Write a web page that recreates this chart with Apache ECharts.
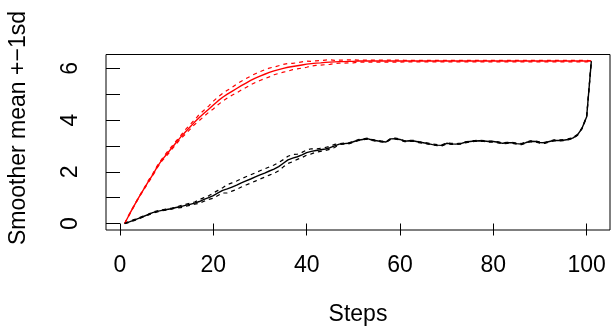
<!DOCTYPE html>
<html>
<head>
<meta charset="utf-8">
<script src="https://cdn.jsdelivr.net/npm/echarts@6/dist/echarts.min.js"></script>
<style>
  html, body { margin: 0; padding: 0; background: #fff; }
  #chart { width: 611px; height: 327px; }
</style>
</head>
<body>
<div id="chart"></div>
<script>
// steps 1..101
const steps = Array.from({ length: 101 }, (_, i) => i + 1);

// red smoother: mean and sd
const redMean = [
  0, 0.35, 0.68, 1.0, 1.3, 1.6, 1.88, 2.2, 2.46, 2.68,
  2.9, 3.12, 3.34, 3.54, 3.73, 3.92, 4.1, 4.26, 4.42, 4.58,
  4.74, 4.88, 5.0, 5.11, 5.22, 5.33, 5.43, 5.53, 5.62, 5.7,
  5.77, 5.84, 5.9, 5.95, 6.0, 6.04, 6.07, 6.1, 6.13, 6.16,
  6.18, 6.2, 6.21, 6.23, 6.24, 6.25, 6.26, 6.26, 6.27, 6.27,
  6.28, 6.28, 6.28, 6.28, 6.28, 6.28, 6.28, 6.28, 6.28, 6.28,
  6.28, 6.28, 6.28, 6.28, 6.28, 6.28, 6.28, 6.28, 6.28, 6.28,
  6.28, 6.28, 6.28, 6.28, 6.28, 6.28, 6.28, 6.28, 6.28, 6.28,
  6.28, 6.28, 6.28, 6.28, 6.28, 6.28, 6.28, 6.28, 6.28, 6.28,
  6.28, 6.28, 6.28, 6.28, 6.28, 6.28, 6.28, 6.28, 6.28, 6.28,
  6.28
];
const redSd = [
  0, 0.02, 0.02, 0.02, 0.02, 0.04, 0.04, 0.04, 0.04, 0.06,
  0.06, 0.06, 0.06, 0.09, 0.09, 0.09, 0.12, 0.12, 0.12, 0.15,
  0.15, 0.15, 0.15, 0.15, 0.17, 0.17, 0.17, 0.17, 0.17, 0.17,
  0.17, 0.17, 0.15, 0.15, 0.15, 0.15, 0.12, 0.12, 0.12, 0.12,
  0.09, 0.09, 0.09, 0.09, 0.09, 0.06, 0.06, 0.06, 0.06, 0.06,
  0.04, 0.04, 0.04, 0.04, 0.04, 0.04, 0.04, 0.04, 0.04, 0.04,
  0.03, 0.03, 0.03, 0.03, 0.03, 0.03, 0.03, 0.03, 0.03, 0.03,
  0.03, 0.03, 0.03, 0.03, 0.03, 0.03, 0.03, 0.03, 0.03, 0.03,
  0.03, 0.03, 0.03, 0.03, 0.03, 0.03, 0.03, 0.03, 0.03, 0.03,
  0.03, 0.03, 0.03, 0.03, 0.03, 0.03, 0.03, 0.03, 0.03, 0.03,
  0.01
];

// black smoother
const blackMean = [
  0, 0.06, 0.13, 0.2, 0.27, 0.34, 0.42, 0.47, 0.51, 0.54,
  0.57, 0.62, 0.65, 0.7, 0.74, 0.79, 0.85, 0.93, 1.0, 1.08,
  1.18, 1.28, 1.34, 1.41, 1.48, 1.57, 1.65, 1.72, 1.8, 1.88,
  1.95, 2.03, 2.1, 2.2, 2.33, 2.46, 2.53, 2.58, 2.65, 2.74,
  2.79, 2.82, 2.85, 2.88, 2.93, 3.0, 3.07, 3.09, 3.1, 3.16,
  3.22, 3.25, 3.28, 3.23, 3.2, 3.17, 3.15, 3.27, 3.28, 3.25,
  3.18, 3.2, 3.19, 3.15, 3.12, 3.09, 3.05, 3.03, 3.02, 3.1,
  3.08, 3.07, 3.09, 3.14, 3.17, 3.19, 3.2, 3.19, 3.17, 3.17,
  3.14, 3.1, 3.12, 3.12, 3.09, 3.07, 3.13, 3.18, 3.17, 3.13,
  3.12, 3.17, 3.21, 3.21, 3.22, 3.25, 3.3, 3.42, 3.68, 4.13,
  6.28
];
const blackSd = [
  0, 0.02, 0.02, 0.02, 0.02, 0.02, 0.02, 0.02, 0.02, 0.02,
  0.02, 0.02, 0.04, 0.04, 0.04, 0.04, 0.07, 0.07, 0.07, 0.1,
  0.1, 0.1, 0.16, 0.16, 0.16, 0.16, 0.16, 0.16, 0.16, 0.16,
  0.16, 0.16, 0.16, 0.16, 0.14, 0.14, 0.14, 0.1, 0.1, 0.1,
  0.1, 0.06, 0.06, 0.06, 0.06, 0.06, 0.02, 0.02, 0.02, 0.02,
  0.02, 0.02, 0.02, 0.02, 0.02, 0.02, 0.02, 0.02, 0.02, 0.02,
  0.02, 0.02, 0.02, 0.02, 0.02, 0.02, 0.02, 0.02, 0.02, 0.02,
  0.02, 0.02, 0.02, 0.02, 0.02, 0.02, 0.02, 0.02, 0.02, 0.02,
  0.02, 0.02, 0.02, 0.02, 0.02, 0.02, 0.02, 0.02, 0.02, 0.02,
  0.02, 0.02, 0.02, 0.02, 0.02, 0.02, 0.02, 0.02, 0.02, 0.02,
  0
];

const xTicks = [0, 20, 40, 60, 80, 100];
const yTicks = [0, 1, 2, 3, 4, 5, 6];
const yLabels = [0, 2, 4, 6];

const font = 'Liberation Sans, Arial, Helvetica, sans-serif';

function pairs(vals, sd, sign) {
  return steps.map((s, i) => [s, +(vals[i] + sign * (sd ? sd[i] : 0)).toFixed(3)]);
}

function solid(name, color, data) {
  return {
    name: name, type: 'line', data: data, showSymbol: false, silent: true,
    lineStyle: { color: color, width: 1.4 }, z: 3
  };
}
function dashed(name, color, data) {
  return {
    name: name, type: 'line', data: data, showSymbol: false, silent: true,
    lineStyle: { color: color, width: 1.2, type: [4, 4] }, z: 2
  };
}

const myChart = echarts.init(document.getElementById('chart'), null, { renderer: 'canvas' });
const option = {
  animation: false,
  backgroundColor: '#fff',
  textStyle: { fontFamily: font },
  grid: {
    left: 106, right: 1, top: 54.5, bottom: 97,
    outerBoundsMode: 'none',
    show: true, borderColor: '#000', borderWidth: 1, backgroundColor: 'transparent'
  },
  xAxis: {
    type: 'value', min: -3, max: 105,
    name: 'Steps', nameLocation: 'middle', nameGap: 73,
    nameTextStyle: { fontSize: 23, color: '#000', fontFamily: font },
    axisLine: { show: false },
    splitLine: { show: false },
    axisTick: { show: true, length: 12, customValues: xTicks, lineStyle: { color: '#000', width: 1 } },
    axisLabel: { customValues: xTicks, fontSize: 23, color: '#000', margin: 24, fontFamily: font }
  },
  yAxis: {
    type: 'value', min: -0.2513, max: 6.534,
    axisLine: { show: false },
    splitLine: { show: false },
    axisTick: { show: true, length: 14, customValues: yTicks, lineStyle: { color: '#000', width: 1 } },
    axisLabel: { customValues: yLabels, rotate: 90, fontSize: 23, color: '#000', margin: 24, fontFamily: font }
  },
  graphic: [{
    type: 'text', x: 19, y: 128, rotation: Math.PI / 2,
    style: {
      text: 'Smoother mean +\u22121sd', fill: '#000', fontSize: 23, fontFamily: font,
      align: 'center', verticalAlign: 'middle'
    }
  }],
  series: [
    dashed('red upper', '#ff0000', pairs(redMean, redSd, 1)),
    dashed('red lower', '#ff0000', pairs(redMean, redSd, -1)),
    solid('red mean', '#ff0000', pairs(redMean, null, 0)),
    dashed('black upper', '#000000', pairs(blackMean, blackSd, 1)),
    dashed('black lower', '#000000', pairs(blackMean, blackSd, -1)),
    solid('black mean', '#000000', pairs(blackMean, null, 0))
  ]
};
window.onresize = () => {
  myChart.resize();
};
myChart.setOption(option);
</script>
</body>
</html>
